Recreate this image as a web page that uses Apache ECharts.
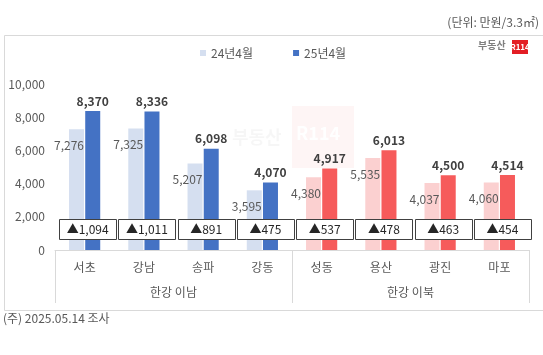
<!DOCTYPE html>
<html><head><meta charset="utf-8">
<script src="https://cdn.jsdelivr.net/npm/echarts@6/dist/echarts.min.js"></script>
<style>html,body{margin:0;padding:0;background:#fff}#c{width:543px;height:355px}</style>
</head><body><div id="c"></div>
<script>
const categories = ['서초','강남','송파','강동','성동','용산','광진','마포'];
const groups = ['한강 이남','한강 이북'];
const groupOf = [0,0,0,0,1,1,1,1];
const seriesNames = ['24년4월','25년4월'];
const values2024 = [7276,7325,5207,3595,4380,5535,4037,4060];
const values2025 = [8370,8336,6098,4070,4917,6013,4500,4514];
const deltas = [1094,1011,891,475,537,478,463,454];
const yTicks = {min:0, max:10000, interval:2000};

const FONT = '"Noto Sans CJK KR","Noto Sans",sans-serif';
const lightCol = ['#d5dff0','#fbd0d0'];
const darkCol = ['#4472c4','#f65b5b'];
const fmt = v => v.toLocaleString('en-US');

const chart = echarts.init(document.getElementById('c'), null, {renderer:'canvas'});
chart.setOption({
  animation:false,
  backgroundColor:'#fff',
  textStyle:{fontFamily:FONT},
  grid:{left:55,right:14,top:84,bottom:105,containLabel:false},
  legend:{
    data:seriesNames, left:195, top:42, icon:'rect', itemWidth:6, itemHeight:6, itemGap:40,
    textStyle:{color:'#595959', fontSize:12, fontFamily:FONT}
  },
  xAxis:[{
    type:'category', data:categories,
    axisLine:{show:true, lineStyle:{color:'#d9d9d9'}},
    axisTick:{show:false},
    axisLabel:{color:'#595959', fontSize:12, margin:11, fontFamily:FONT}
  },{
    type:'category', data:groups, position:'bottom',
    axisLine:{show:false},
    axisTick:{show:true, length:53, lineStyle:{color:'#d9d9d9'}},
    axisLabel:{color:'#595959', fontSize:12, margin:36, fontFamily:FONT}
  }],
  yAxis:{
    type:'value', min:yTicks.min, max:yTicks.max, interval:yTicks.interval,
    axisLine:{show:false}, axisTick:{show:false}, splitLine:{show:false},
    axisLabel:{color:'#595959', fontSize:12, margin:10, fontFamily:FONT, formatter:v=>fmt(v)}
  },
  series:[{
    name:seriesNames[0], type:'bar', barWidth:15, barGap:'8%', color:'#d5dff0',
    data:values2024.map((v,i)=>({value:v, itemStyle:{color:lightCol[groupOf[i]]}})),
    label:{show:true, position:['100%',16], align:'right', verticalAlign:'middle',
      color:'#595959', fontSize:12, fontFamily:FONT, formatter:p=>fmt(p.value)}
  },{
    name:seriesNames[1], type:'bar', barWidth:15, color:'#4472c4',
    data:values2025.map((v,i)=>({value:v, itemStyle:{color:darkCol[groupOf[i]]}})),
    label:{show:true, position:'top', distance:4, color:'#404040', fontSize:12, fontWeight:'bold',
      fontFamily:FONT, formatter:p=>fmt(p.value)}
  },{
    type:'custom', z:10, silent:true,
    data:deltas.map((d,i)=>[i,d]),
    renderItem:(params, api)=>{
      const p = api.coord([api.value(0), 0]);
      const w = api.size([1,0])[0];
      const bx = p[0] - w/2 + 4, bw = w - 2;
      return {type:'group', children:[
        {type:'rect', shape:{x:Math.round(bx)+0.5, y:Math.round(p[1]-31)+0.5, width:Math.round(bw), height:20},
          style:{fill:'#fff', stroke:'#404040', lineWidth:1}},
        {type:'text', style:{x:bx+bw/2, y:p[1]-21, text:'▲'+fmt(api.value(1)), textAlign:'center', textVerticalAlign:'middle',
          fill:'#262626', fontSize:12, fontFamily:FONT}}
      ]};
    }
  }],
  graphic:[
    {type:'rect', left:2, top:33, shape:{width:539, height:275}, style:{fill:'none', stroke:'#d9d9d9', lineWidth:1}, z:-1},
    {type:'text', right:4, top:16, style:{text:'(단위: 만원/3.3㎡)', fill:'#595959', fontSize:12, fontFamily:FONT}},
    {type:'text', left:3, top:312, style:{text:'(주) 2025.05.14 조사', fill:'#595959', fontSize:12, fontFamily:FONT}},
    {type:'text', left:478, top:40, style:{text:'부동산', fill:'#7f7f7f', fontSize:10, fontWeight:'bold', fontFamily:FONT}},
    {type:'rect', left:512, top:40, shape:{width:16, height:14}, style:{fill:'#e31e24'}},
    {type:'text', x:520, y:47, style:{text:'R114', fill:'#fff', fontSize:8, fontWeight:'bold', textAlign:'center', textVerticalAlign:'middle', fontFamily:FONT}},
    {type:'group', left:232, top:106, z:-2, children:[
      {type:'text', left:0, top:22, style:{text:'부동산', fill:'rgba(0,0,0,0.035)', fontSize:18, fontWeight:'bold', fontFamily:FONT}},
      {type:'rect', left:60, top:0, shape:{width:62, height:62}, style:{fill:'rgba(240,80,80,0.06)'}},
      {type:'text', left:64, top:18, style:{text:'R114', fill:'rgba(255,255,255,1)', fontSize:18, fontWeight:'bold', fontFamily:FONT}}
    ]}
  ]
});
</script></body></html>
